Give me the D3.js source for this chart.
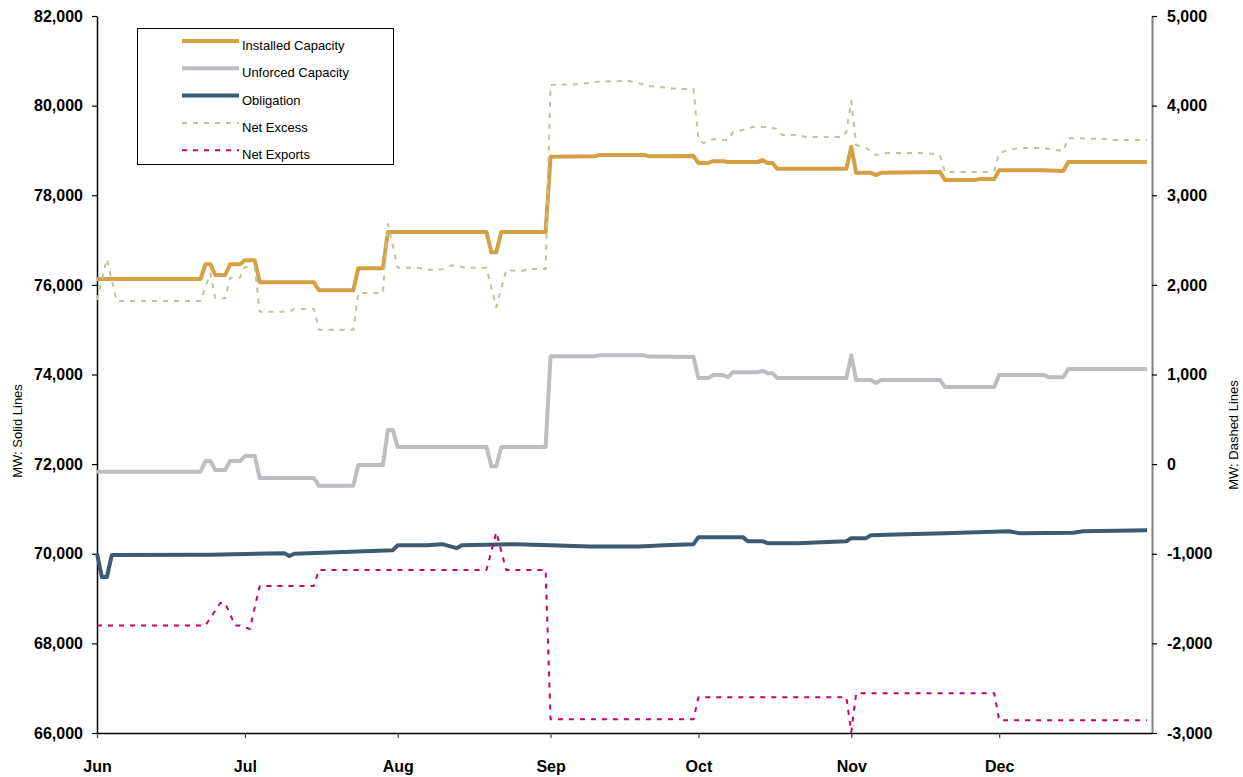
<!DOCTYPE html>
<html>
<head>
<meta charset="utf-8">
<script src="https://cdn.jsdelivr.net/npm/d3@7/dist/d3.min.js"></script>
<style>
  html, body { margin: 0; padding: 0; background: #fff; }
  svg { display: block; font-family: "Liberation Sans", Arial, sans-serif; }
</style>
</head>
<body>
<svg id="chart" width="1243" height="777"></svg>
<script>
// Daily capacity position (MW), keyed by month-day
const installedCapacity = [
  ["06-01",76130],["06-22",76130],["06-23",76460],["06-24",76460],["06-25",76220],["06-27",76220],
  ["06-28",76460],["06-30",76460],["07-01",76550],["07-03",76550],["07-04",76060],["07-15",76060],
  ["07-16",75880],["07-23",75880],["07-24",76370],["07-29",76370],["07-30",77180],["08-19",77180],
  ["08-20",76730],["08-21",76730],["08-22",77180],["08-31",77180],["09-01",78860],["09-10",78870],
  ["09-11",78900],["09-20",78900],["09-21",78870],["09-30",78875],["10-01",78720],["10-03",78720],
  ["10-04",78760],["10-06",78760],["10-07",78740],["10-13",78740],["10-14",78790],["10-15",78720],
  ["10-16",78720],["10-17",78590],["10-31",78590],["11-01",79080],["11-02",78500],["11-05",78500],
  ["11-06",78450],["11-07",78500],["11-19",78520],["11-20",78340],["11-26",78340],["11-27",78360],
  ["11-30",78360],["12-01",78560],["12-10",78560],["12-14",78540],["12-15",78740],["12-31",78740]
];

const unforcedCapacity = [
  ["06-01",71830],["06-22",71830],["06-23",72070],["06-24",72070],["06-25",71870],["06-27",71870],
  ["06-28",72070],["06-30",72070],["07-01",72180],["07-03",72180],["07-04",71690],["07-15",71690],
  ["07-16",71520],["07-23",71520],["07-24",71980],["07-29",71980],["07-30",72760],["07-31",72760],
  ["08-01",72380],["08-19",72380],["08-20",71950],["08-21",71950],["08-22",72380],["08-31",72380],
  ["09-01",74410],["09-10",74410],["09-11",74430],["09-20",74430],["09-21",74400],["09-30",74390],
  ["10-01",73920],["10-03",73920],["10-04",73990],["10-06",73990],["10-07",73940],["10-08",74050],
  ["10-13",74050],["10-14",74080],["10-15",74030],["10-16",74030],["10-17",73920],["10-31",73920],
  ["11-01",74430],["11-02",73875],["11-05",73875],["11-06",73810],["11-07",73875],["11-19",73875],
  ["11-20",73720],["11-30",73720],["12-01",73990],["12-10",73990],["12-11",73940],["12-14",73940],
  ["12-15",74120],["12-31",74120]
];

const obligation = [
  ["06-01",70010],["06-02",69480],["06-03",69480],["06-04",69970],["06-24",69980],["07-09",70010],
  ["07-10",69950],["07-11",70000],["07-31",70080],["08-01",70190],["08-07",70190],["08-10",70214],
  ["08-13",70125],["08-14",70190],["08-25",70214],["09-01",70190],["09-09",70160],["09-19",70160],
  ["09-24",70190],["09-30",70214],["10-01",70370],["10-10",70370],["10-11",70280],["10-14",70280],
  ["10-15",70237],["10-21",70237],["10-31",70280],["11-01",70348],["11-04",70348],["11-05",70415],
  ["11-12",70437],["11-20",70460],["12-03",70504],["12-05",70460],["12-16",70470],["12-18",70504],
  ["12-31",70527]
];

const netExcess = [
  ["06-01",1830],["06-03",2290],["06-05",1820],["06-22",1820],["06-24",2130],["06-25",1850],
  ["06-27",1850],["06-28",2080],["06-30",2080],["07-01",2200],["07-03",2200],["07-04",1700],
  ["07-10",1700],["07-11",1730],["07-15",1730],["07-16",1500],["07-23",1500],["07-24",1910],
  ["07-29",1910],["07-30",2680],["08-01",2190],["08-05",2190],["08-08",2165],["08-10",2175],
  ["08-12",2220],["08-15",2190],["08-19",2190],["08-21",1750],["08-23",2165],["08-26",2154],
  ["08-28",2176],["08-31",2176],["09-01",4230],["09-07",4240],["09-11",4270],["09-17",4275],
  ["09-21",4220],["09-27",4185],["09-30",4185],["10-01",3616],["10-02",3583],["10-04",3627],
  ["10-07",3616],["10-08",3705],["10-10",3728],["10-12",3761],["10-15",3761],["10-17",3739],
  ["10-18",3672],["10-21",3672],["10-23",3650],["10-30",3650],["10-31",3705],["11-01",4051],
  ["11-02",3560],["11-04",3527],["11-06",3449],["11-08",3471],["11-15",3471],["11-18",3460],
  ["11-19",3440],["11-20",3259],["11-29",3259],["11-30",3270],["12-01",3471],["12-03",3504],
  ["12-05",3527],["12-10",3527],["12-14",3493],["12-15",3638],["12-23",3627],["12-24",3616],
  ["12-31",3616]
];

const netExports = [
  ["06-01",-1800],["06-23",-1800],["06-26",-1550],["06-27",-1550],["06-29",-1800],["06-30",-1800],
  ["07-02",-1840],["07-04",-1360],["07-15",-1360],["07-16",-1180],["08-19",-1180],["08-21",-760],
  ["08-23",-1180],["08-31",-1180],["09-01",-2846],["09-30",-2846],["10-01",-2600],["10-31",-2600],
  ["11-01",-2990],["11-02",-2556],["11-30",-2556],["12-01",-2857],["12-31",-2857]
];

const leftTicks = [66000, 68000, 70000, 72000, 74000, 76000, 78000, 80000, 82000];
const rightTicks = [-3000, -2000, -1000, 0, 1000, 2000, 3000, 4000, 5000];
const monthTicks = ["06-01", "07-01", "08-01", "09-01", "10-01", "11-01", "12-01"];

const YEAR = 2007;
const parseDay = d3.timeParse("%Y-%m-%d");
const toDate = md => parseDay(`${YEAR}-${md}`);

const margin = { left: 97, right: 1152, top: 16, bottom: 733 };

const svg = d3.select("#chart");
svg.append("rect").attr("width", 1243).attr("height", 777).attr("fill", "#fff");

const x = d3.scaleTime()
  .domain([toDate("06-01"), parseDay(`${YEAR + 1}-01-01`)])
  .range([margin.left, margin.right]);
const yL = d3.scaleLinear().domain([66000, 82000]).range([margin.bottom, margin.top]);
const yR = d3.scaleLinear().domain([-3000, 5000]).range([margin.bottom, margin.top]);

const fmt = v => d3.format(",")(v).replace("\u2212", "-");

// Left axis (solid series)
const gL = svg.append("g").attr("transform", `translate(${margin.left},0)`)
  .call(d3.axisLeft(yL).tickValues(leftTicks).tickFormat(fmt).tickSize(5).tickSizeOuter(0).tickPadding(9));
gL.select(".domain").attr("stroke", "#000").attr("stroke-width", 1.5);
gL.selectAll(".tick line").attr("stroke", "#000").attr("stroke-width", 1.2);
gL.selectAll("text").attr("font-size", 16).attr("font-weight", "bold").attr("fill", "#000");

// Right axis (dashed series)
const gR = svg.append("g").attr("transform", `translate(${margin.right},0)`)
  .call(d3.axisRight(yR).tickValues(rightTicks).tickFormat(fmt).tickSize(5).tickSizeOuter(0).tickPadding(10));
gR.select(".domain").attr("stroke", "#808080").attr("stroke-width", 2);
gR.selectAll(".tick line").attr("stroke", "#000").attr("stroke-width", 1.2);
gR.selectAll("text").attr("font-size", 16).attr("font-weight", "bold").attr("fill", "#000");

// Month axis
const gX = svg.append("g").attr("transform", `translate(0,${margin.bottom})`)
  .call(d3.axisBottom(x).tickValues(monthTicks.map(toDate)).tickFormat(d3.timeFormat("%b"))
    .tickSize(5).tickSizeOuter(0).tickPadding(23));
gX.select(".domain").attr("stroke", "#000").attr("stroke-width", 1.5);
gX.selectAll(".tick line").attr("stroke", "#444").attr("stroke-width", 1.2);
gX.selectAll("text").attr("font-size", 16).attr("font-weight", "bold").attr("fill", "#000");

// Axis titles
svg.append("text")
  .attr("transform", "translate(22,431) rotate(-90)")
  .attr("text-anchor", "middle").attr("font-size", 13).attr("fill", "#000")
  .text("MW: Solid Lines");
svg.append("text")
  .attr("transform", "translate(1238,435) rotate(-90)")
  .attr("text-anchor", "middle").attr("font-size", 13).attr("fill", "#000")
  .text("MW: Dashed Lines");

const series = [
  { name: "Installed Capacity", data: installedCapacity, y: yL, color: "#D4A040", width: 4, dash: null },
  { name: "Unforced Capacity", data: unforcedCapacity, y: yL, color: "#BDBDC2", width: 4, dash: null },
  { name: "Obligation", data: obligation, y: yL, color: "#3D5A74", width: 4, dash: null },
  { name: "Net Excess", data: netExcess, y: yR, color: "#BCC596", width: 2, dash: "5,6" },
  { name: "Net Exports", data: netExports, y: yR, color: "#C8006E", width: 2, dash: "5,6" }
];

series.forEach(s => {
  const line = d3.line().x(d => x(toDate(d[0]))).y(d => s.y(d[1]));
  svg.append("path")
    .attr("d", line(s.data))
    .attr("fill", "none")
    .attr("stroke", s.color)
    .attr("stroke-width", s.width)
    .attr("stroke-linejoin", "round")
    .attr("stroke-dasharray", s.dash);
});

// Legend
const legend = svg.append("g");
legend.append("rect")
  .attr("x", 137.5).attr("y", 28.5).attr("width", 256).attr("height", 136)
  .attr("fill", "#fff").attr("stroke", "#000").attr("stroke-width", 1);
series.forEach((s, i) => {
  const ly = 41 + i * 27.3;
  legend.append("line")
    .attr("x1", 182).attr("x2", 239).attr("y1", ly).attr("y2", ly)
    .attr("stroke", s.color).attr("stroke-width", s.width === 4 ? 4 : 2)
    .attr("stroke-dasharray", s.dash);
  legend.append("text")
    .attr("x", 242).attr("y", ly + 9)
    .attr("font-size", 13).attr("fill", "#000")
    .text(s.name);
});
</script>
</body>
</html>
